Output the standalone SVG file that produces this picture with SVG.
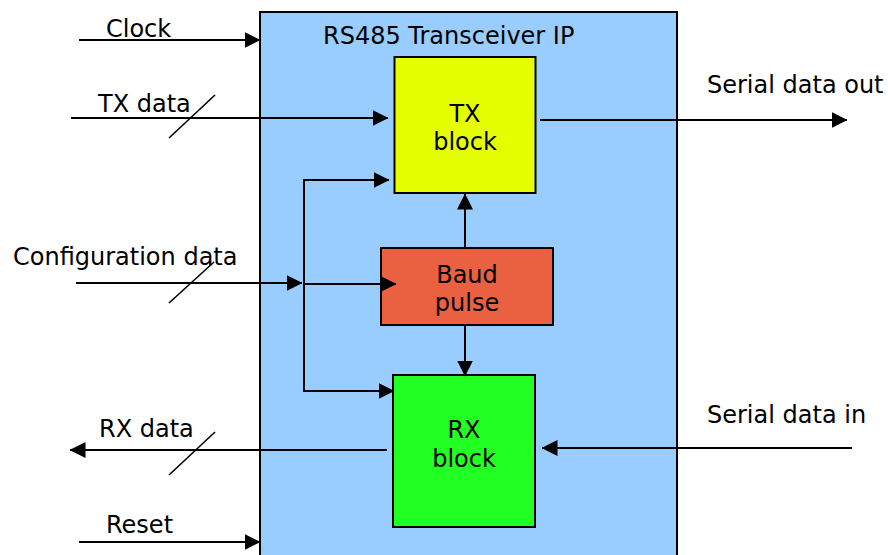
<svg xmlns="http://www.w3.org/2000/svg" width="888" height="555" viewBox="0 0 888 555">
  <style>
    text { font-family: "DejaVu Sans", Verdana, sans-serif; font-size: 24px; fill: #000; }
    .mid { text-anchor: middle; }
    .wire { stroke: #000; stroke-width: 2; fill: none; }
    .bus { stroke: #000; stroke-width: 1.6; }
    .blk { stroke: #000; stroke-width: 2; }
  </style>
  <defs>
    <marker id="head" markerUnits="userSpaceOnUse" viewBox="0 0 16 16" markerWidth="16" markerHeight="16" refX="15.5" refY="8" orient="auto">
      <path d="M0,0 L16,8 L0,16 Z" fill="#000"/>
    </marker>
  </defs>

  <!-- IP boundary -->
  <g id="ip">
    <rect x="260" y="12" width="417" height="560" fill="#99ccff" stroke="#000" stroke-width="2"/>
    <text x="323" y="44">RS485 Transceiver IP</text>
  </g>

  <!-- external port labels -->
  <g id="labels">
    <text x="106" y="37">Clock</text>
    <text x="98" y="112">TX data</text>
    <text x="13" y="265">Configuration data</text>
    <text x="99" y="437">RX data</text>
    <text x="106" y="533">Reset</text>
    <text x="707" y="93">Serial data out</text>
    <text x="707" y="423">Serial data in</text>
  </g>

  <!-- functional blocks -->
  <g id="tx-block">
    <rect class="blk" x="394.5" y="57" width="141" height="136" fill="#e6ff00"/>
    <text class="mid" x="465" y="122">TX</text>
    <text class="mid" x="465" y="150">block</text>
  </g>
  <g id="baud-pulse">
    <rect class="blk" x="381" y="248" width="172" height="77" fill="#ea6141"/>
    <text class="mid" x="467" y="283">Baud</text>
    <text class="mid" x="467" y="311">pulse</text>
  </g>
  <g id="rx-block">
    <rect class="blk" x="393" y="375" width="142" height="152" fill="#22ff22"/>
    <text class="mid" x="464" y="438">RX</text>
    <text class="mid" x="464" y="467">block</text>
  </g>

  <!-- connectors -->
  <g id="connectors">
    <line class="wire" marker-end="url(#head)" x1="79" y1="40" x2="260" y2="40"/>
    <line class="wire" marker-end="url(#head)" x1="71" y1="118" x2="388" y2="118"/>
    <line class="bus" x1="169" y1="138" x2="215" y2="95"/>
    <line class="wire" marker-end="url(#head)" x1="76" y1="283" x2="302" y2="283"/>
    <line class="bus" x1="169" y1="303" x2="214" y2="262"/>
    <line class="wire" marker-end="url(#head)" x1="303" y1="180" x2="389" y2="180"/>
    <path class="wire" marker-end="url(#head)" d="M304,179 L304,391 L394,391"/>
    <line class="wire" marker-end="url(#head)" x1="304" y1="284" x2="396" y2="284"/>
    <line class="wire" marker-end="url(#head)" x1="465" y1="248" x2="465" y2="194"/>
    <line class="wire" marker-end="url(#head)" x1="465" y1="325" x2="465" y2="376"/>
    <line class="wire" marker-end="url(#head)" x1="540" y1="120" x2="847" y2="120"/>
    <line class="wire" marker-end="url(#head)" x1="852" y1="448" x2="542" y2="448"/>
    <line class="wire" marker-end="url(#head)" x1="387" y1="450" x2="70" y2="450"/>
    <line class="bus" x1="169" y1="475" x2="215" y2="432"/>
    <line class="wire" marker-end="url(#head)" x1="79" y1="542" x2="260" y2="542"/>
  </g>
</svg>
